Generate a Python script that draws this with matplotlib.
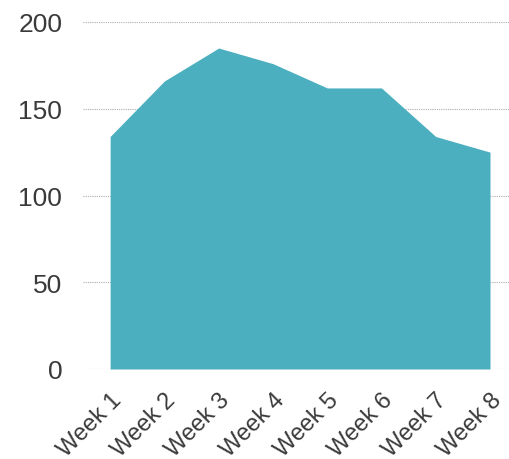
import matplotlib
matplotlib.use("Agg")
import matplotlib.pyplot as plt

# Weekly values
weeks = ["Week 1", "Week 2", "Week 3", "Week 4", "Week 5", "Week 6", "Week 7", "Week 8"]
values = [134, 166, 185, 176, 162, 162, 134, 125]
y_ticks = [0, 50, 100, 150, 200]

plt.rcParams["font.family"] = ["Liberation Sans", "DejaVu Sans"]

fig = plt.figure(figsize=(5.09, 4.60), dpi=100)
ax = fig.add_axes([83 / 509, 90 / 460, 426 / 509, 347 / 460])

x = list(range(len(weeks)))
ax.fill_between(x, values, 0, color="#4BAFC0", linewidth=0, zorder=2)

ax.set_xlim(-0.5, len(weeks) - 1 + 0.35)
ax.set_ylim(0, 200)
ax.set_yticks(y_ticks)
ax.set_yticklabels([str(v) for v in y_ticks], fontsize=19, color="#3a3a3a")
ax.set_xticks(x)
ax.set_xticklabels(weeks, fontsize=17, color="#3a3a3a", rotation=45,
                   ha="right", rotation_mode="anchor")

ax.grid(axis="y", linestyle=(0, (1, 1)), color="#8a8a8a", linewidth=0.8, zorder=3, alpha=0.7)
ax.tick_params(axis="both", length=0)
ax.tick_params(axis="y", pad=15)
ax.tick_params(axis="x", pad=14)
for s in ax.spines.values():
    s.set_visible(False)

fig.savefig("out.png", dpi=100)
